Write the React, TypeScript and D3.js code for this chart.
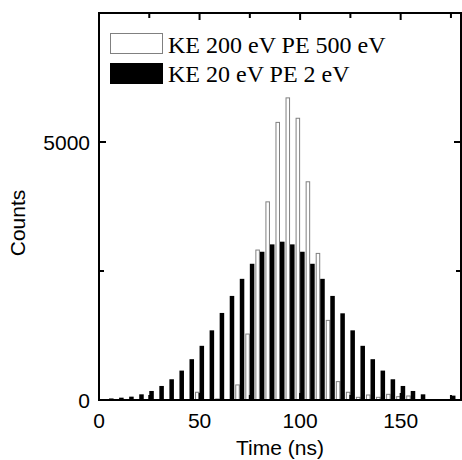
import React from "react";
import * as d3 from "d3";

const times = [5,10,15,20,25,30,35,40,45,50,55,60,65,70,75,80,85,90,95,100,105,110,115,120,125,130,135,140,145,150,155,160,165,170,175];
const highEnergyCounts = [0,0,0,0,0,0,0,0,0,150,0,20,0,292,1278,2906,3840,5380,5855,5460,4229,2841,1543,356,150,52,97,52,110,65,78,0,0,0,0];
const lowEnergyCounts = [30,45,65,110,175,272,402,570,791,1050,1350,1687,2017,2348,2640,2873,3016,3068,3016,2873,2640,2348,2017,1680,1350,1050,791,570,402,272,175,110,0,0,85];
const xMajorTicks = [0,50,100,150];
const xMinorTicks = [25,75,125,175];
const yMajorTicks = [0,5000];
const yMinorTicks = [2500];
const legendLabels = ["KE 200 eV PE 500 eV", "KE 20 eV PE 2 eV"];

export default function App() {
  const W = 462, H = 460;
  const left = 99, right = 461, top = 13, bottom = 400;
  const x = d3.scaleLinear().domain([0, 180]).range([left, right]);
  const y = d3.scaleLinear().domain([0, 7500]).range([bottom, top]);
  const bw = 2.25;
  const sans = "'Liberation Sans', Arial, sans-serif";
  const serif = "'Liberation Serif', 'Times New Roman', serif";
  return (
    <svg width={W} height={H} style={{ position: "absolute", left: 0, top: 0, background: "#fff" }}>
      <rect x={0} y={0} width={W} height={H} fill="#fff" />
      {times.map((t, i) => (
        highEnergyCounts[i] > 0 ? (
          <rect key={"w" + t} x={x(t - bw) + 0.5} y={y(highEnergyCounts[i])}
            width={x(t) - x(t - bw) - 1} height={bottom - y(highEnergyCounts[i])}
            fill="#fff" stroke="#808080" strokeWidth={1} />
        ) : null
      ))}
      {times.map((t, i) => (
        lowEnergyCounts[i] > 0 ? (
          <rect key={"b" + t} x={x(t)} y={y(lowEnergyCounts[i])}
            width={x(t + bw) - x(t)} height={bottom - y(lowEnergyCounts[i])}
            fill="#000" />
        ) : null
      ))}
      {/* ticks */}
      {xMajorTicks.map(t => (
        <g key={"xm" + t}>
          <line x1={x(t)} x2={x(t)} y1={bottom} y2={bottom - 7} stroke="#000" strokeWidth={2} />
          <line x1={x(t)} x2={x(t)} y1={top} y2={top + 7} stroke="#000" strokeWidth={2} />
          <text x={x(t)} y={428} textAnchor="middle" fontFamily={sans} fontSize={21} fill="#000">{t}</text>
        </g>
      ))}
      {xMinorTicks.map(t => (
        <g key={"xn" + t}>
          <line x1={x(t)} x2={x(t)} y1={bottom} y2={bottom - 5} stroke="#000" strokeWidth={2} />
          <line x1={x(t)} x2={x(t)} y1={top} y2={top + 5} stroke="#000" strokeWidth={2} />
        </g>
      ))}
      {yMajorTicks.map(t => (
        <g key={"ym" + t}>
          <line x1={left} x2={left + 7} y1={y(t)} y2={y(t)} stroke="#000" strokeWidth={2} />
          <line x1={right} x2={right - 7} y1={y(t)} y2={y(t)} stroke="#000" strokeWidth={2} />
          <text x={90} y={y(t)} dy="0.36em" textAnchor="end" fontFamily={sans} fontSize={21} fill="#000">{t}</text>
        </g>
      ))}
      {yMinorTicks.map(t => (
        <g key={"yn" + t}>
          <line x1={left} x2={left + 5} y1={y(t)} y2={y(t)} stroke="#000" strokeWidth={2} />
          <line x1={right} x2={right - 5} y1={y(t)} y2={y(t)} stroke="#000" strokeWidth={2} />
        </g>
      ))}
      <rect x={left} y={top} width={right - left} height={bottom - top} fill="none" stroke="#000" strokeWidth={2} />
      {/* axis titles */}
      <text x={(left + right) / 2} y={455} textAnchor="middle" fontFamily={sans} fontSize={21} fill="#000">Time (ns)</text>
      <text transform="translate(25,223) rotate(-90)" textAnchor="middle" fontFamily={sans} fontSize={21} fill="#000">Counts</text>
      {/* legend */}
      <rect x={110.5} y={33.5} width={52} height={20} fill="#fff" stroke="#808080" strokeWidth={1} />
      <text x={168} y={53} fontFamily={serif} fontSize={24} fill="#000">{legendLabels[0]}</text>
      <rect x={110} y={63} width={53} height={21} fill="#000" />
      <text x={168} y={82} fontFamily={serif} fontSize={24} fill="#000">{legendLabels[1]}</text>
    </svg>
  );
}
